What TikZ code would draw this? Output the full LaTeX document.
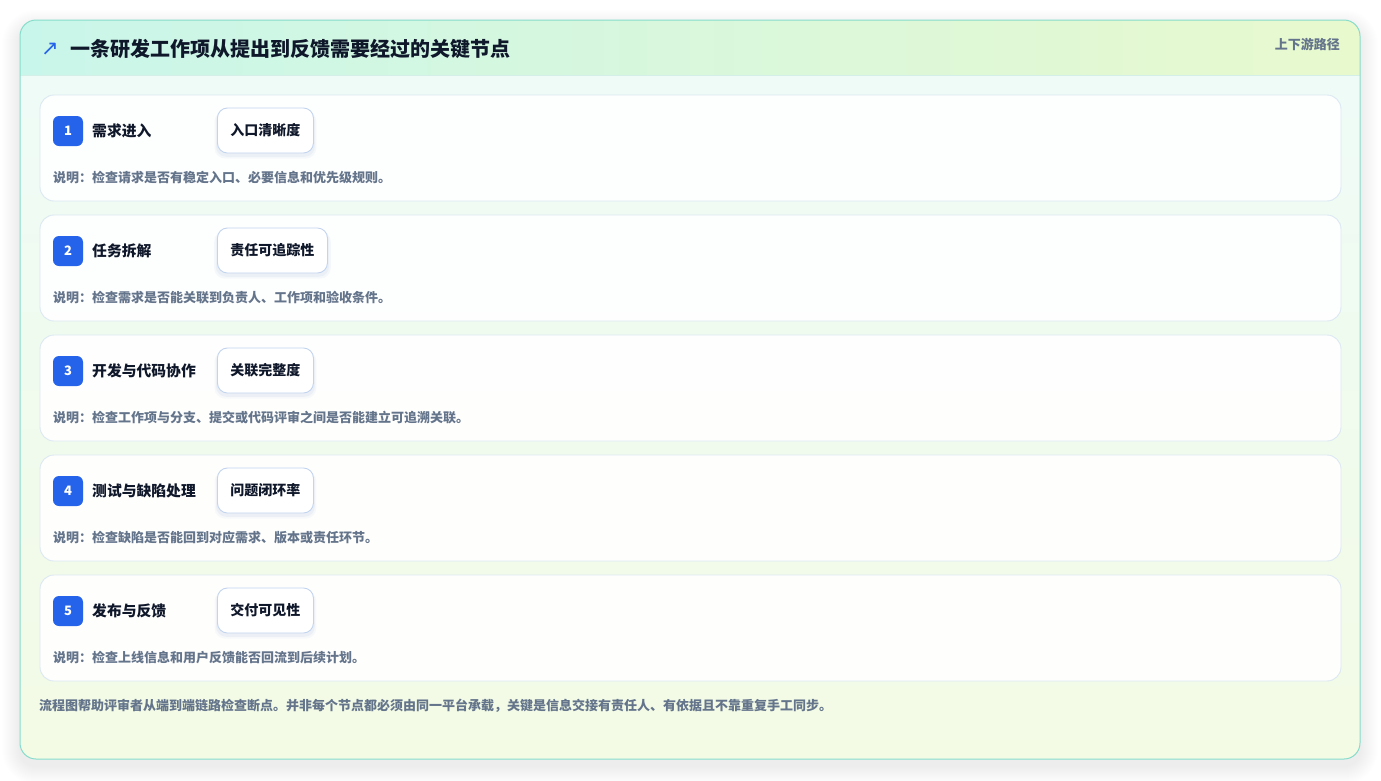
\documentclass[tikz,border=0pt]{standalone}
\usepackage{fontspec}
\setmainfont{Noto Sans CJK SC}
\newfontfamily\dejavu{DejaVu Sans}
\usetikzlibrary{shadows}
\definecolor{panelborder}{HTML}{86DCCB}
\definecolor{hdrL}{HTML}{C9F6EA}
\definecolor{hdrR}{HTML}{E8F9CE}
\definecolor{hdrline}{HTML}{D4EEE8}
\definecolor{bodytop}{HTML}{EEFBF8}
\definecolor{bodybot}{HTML}{F3FBE5}
\definecolor{cardborder}{HTML}{DCE8F2}
\definecolor{tagborder}{HTML}{C3D4EF}
\definecolor{badgeblue}{HTML}{2563EB}
\definecolor{titlecol}{HTML}{0F172A}
\definecolor{greytext}{HTML}{64748B}
\definecolor{tagshadow}{HTML}{B8C8E0}
\tikzset{
  card/.style={draw=cardborder, line width=0.9pt, fill=white, fill opacity=0.93, text opacity=1,
    rounded corners=14pt, minimum width=1301pt, minimum height=106pt, inner sep=0pt},
  badge/.style={fill=badgeblue, rounded corners=6pt, minimum size=30pt, inner sep=0pt,
    text=white, font=\fontsize{13}{15}\selectfont\bfseries},
  ttl/.style={inner sep=0pt, text=titlecol, font=\fontsize{14.8}{17}\selectfont\bfseries},
  tagbox/.style={draw=tagborder, line width=0.9pt, fill=white, rounded corners=10pt,
    minimum height=45pt, inner xsep=13pt, inner ysep=0pt, text=titlecol,
    font=\fontsize{14}{16}\selectfont\bfseries,
    general shadow={fill=tagshadow, opacity=0.10, shadow yshift=-4pt, shadow scale=1.06},
    general shadow={fill=tagshadow, opacity=0.15, shadow yshift=-3pt, shadow scale=1.03}},
  desc/.style={inner sep=0pt, text=greytext, font=\fontsize{13}{15}\selectfont\bfseries},
}
\begin{document}
\begin{tikzpicture}[x=1pt,y=-1pt]
\useasboundingbox (0,0) rectangle (1381,780);
\fill[white] (0,0) rectangle (1381,780);
% outer soft shadow
\foreach \i in {1,...,18}{
  \pgfmathsetmacro{\rc}{16+\i}
  \fill[black, opacity=0.005, rounded corners=\rc pt] (20-\i,28-\i) rectangle (1360+\i,766+\i);
}
% panel
\begin{scope}
  \clip[rounded corners=16pt] (20,20) rectangle (1360,759);
  \shade[top color=bodytop, bottom color=bodybot] (20,20) rectangle (1360,759);
  \shade[left color=hdrL, right color=hdrR] (20,20) rectangle (1360,75);
  \draw[hdrline, line width=0.8pt] (20,75) -- (1360,75);
\end{scope}
\draw[panelborder, line width=1pt, rounded corners=16pt] (20,20) rectangle (1360,759);
% header
\node[anchor=center, inner sep=0pt, text=badgeblue, font=\dejavu\fontsize{21}{23}\selectfont] (icon) at (50,49) {↗};
\node[anchor=west, inner sep=0pt, text=titlecol, font=\fontsize{20}{23}\selectfont\bfseries] (title) at (70,48.5) {一条研发工作项从提出到反馈需要经过的关键节点};
\node[anchor=east, inner sep=0pt, text=greytext, font=\fontsize{13}{15}\selectfont\bfseries] (path) at (1340,44) {上下游路径};
% cards
\foreach \n/\y/\t/\g/\d in {
  1/95/需求进入/入口清晰度/说明：检查请求是否有稳定入口、必要信息和优先级规则。,
  2/215/任务拆解/责任可追踪性/说明：检查需求是否能关联到负责人、工作项和验收条件。,
  3/335/开发与代码协作/关联完整度/说明：检查工作项与分支、提交或代码评审之间是否能建立可追溯关联。,
  4/455/测试与缺陷处理/问题闭环率/说明：检查缺陷是否能回到对应需求、版本或责任环节。,
  5/575/发布与反馈/交付可见性/说明：检查上线信息和用户反馈能否回流到后续计划。}{
  \node[card] (card\n) at (690.5,\y+53) {};
  \node[badge] (badge\n) at (68,\y+36) {\n};
  \node[ttl, anchor=west] (step\n) at (92,\y+36) {\t};
  \node[tagbox, anchor=west] (tag\n) at (217,\y+35.5) {\g};
  \node[desc, anchor=west] (desc\n) at (53,\y+83) {\d};
}
% footer
\node[desc, anchor=west] (foot) at (39,706) {流程图帮助评审者从端到端链路检查断点。并非每个节点都必须由同一平台承载，关键是信息交接有责任人、有依据且不靠重复手工同步。};
\end{tikzpicture}
\end{document}
